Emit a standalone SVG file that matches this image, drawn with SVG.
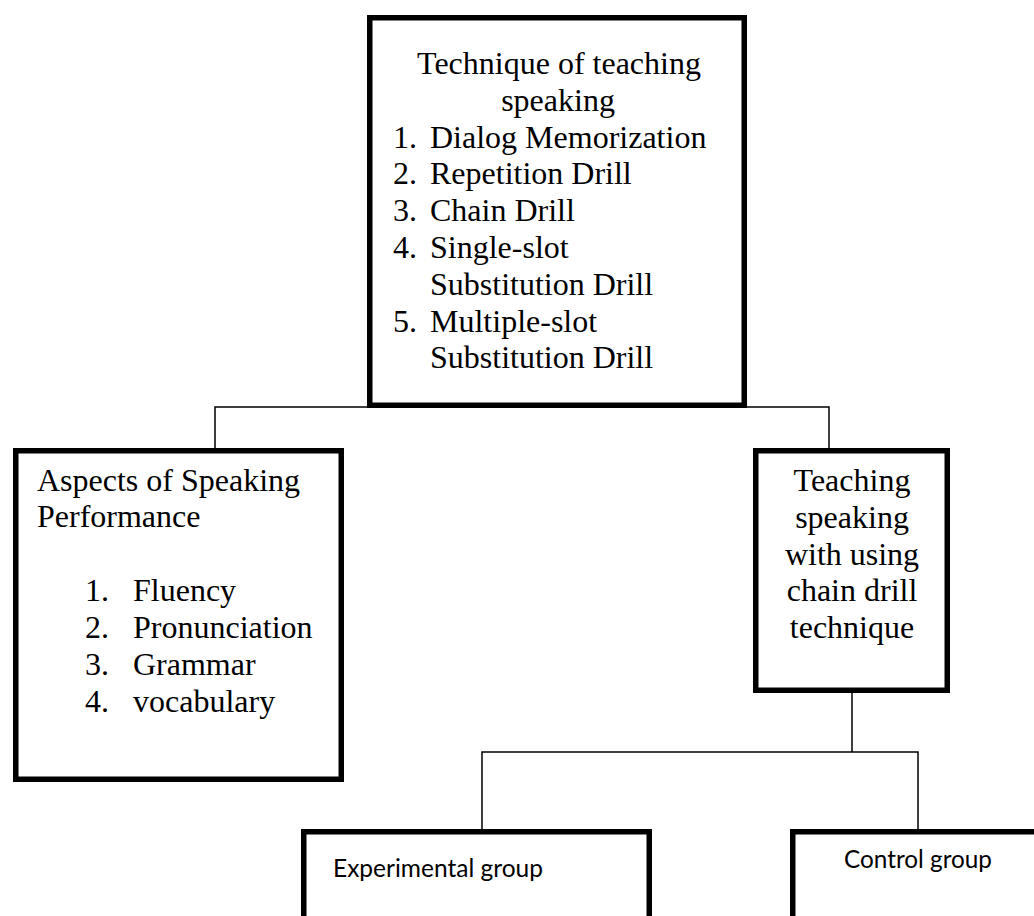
<svg xmlns="http://www.w3.org/2000/svg" width="1034" height="916" viewBox="0 0 1034 916">
<style>
.box{fill:#fff;stroke:#000;stroke-width:5.5}
.conn{fill:none;stroke:#000;stroke-width:1.5}
.serif{font-family:"Liberation Serif","Times New Roman",serif;font-size:32px;fill:#000}
.sans{font-family:Lato,"Liberation Sans",sans-serif;font-size:25px;fill:#000}
.c{text-anchor:middle}
</style>
<rect width="1034" height="916" fill="#fff"/>
<g id="connectors">
<path class="conn" d="M215,448 V407 H829 V448"/>
<path class="conn" d="M852,693 V752"/>
<path class="conn" d="M482,829 V752 H918 V829"/>
</g>
<g id="technique">
<rect class="box" x="369.75" y="17.75" width="374.5" height="387.5"/>
<text class="serif c" x="559" y="74">Technique of teaching</text>
<text class="serif c" x="558" y="110.8">speaking</text>
<text class="serif" x="393" y="147.6">1.</text><text class="serif" x="430" y="147.6">Dialog Memorization</text>
<text class="serif" x="393" y="184.4">2.</text><text class="serif" x="430" y="184.4">Repetition Drill</text>
<text class="serif" x="393" y="221.2">3.</text><text class="serif" x="430" y="221.2">Chain Drill</text>
<text class="serif" x="393" y="258">4.</text><text class="serif" x="430" y="258">Single-slot</text>
<text class="serif" x="430" y="294.8">Substitution Drill</text>
<text class="serif" x="393" y="331.6">5.</text><text class="serif" x="430" y="331.6">Multiple-slot</text>
<text class="serif" x="430" y="368.4">Substitution Drill</text>
</g>
<g id="aspects">
<rect class="box" x="15.75" y="450.75" width="325.5" height="328.5"/>
<text class="serif" x="37" y="490.7">Aspects of Speaking</text>
<text class="serif" x="37" y="527.3">Performance</text>
<text class="serif" x="85" y="600.7">1.</text><text class="serif" x="133" y="600.7">Fluency</text>
<text class="serif" x="85" y="638.3">2.</text><text class="serif" x="133" y="638.3">Pronunciation</text>
<text class="serif" x="85" y="675">3.</text><text class="serif" x="133" y="675">Grammar</text>
<text class="serif" x="85" y="711.7">4.</text><text class="serif" x="133" y="711.7">vocabulary</text>
</g>
<g id="chain-drill">
<rect class="box" x="755.75" y="450.75" width="191.5" height="239.5"/>
<text class="serif c" x="852" y="490.7">Teaching</text>
<text class="serif c" x="852" y="527.6">speaking</text>
<text class="serif c" x="852" y="564.5">with using</text>
<text class="serif c" x="852" y="601.4">chain drill</text>
<text class="serif c" x="852" y="638.3">technique</text>
</g>
<g id="experimental">
<rect class="box" x="303.75" y="831.75" width="345.5" height="200"/>
<text class="sans" x="333" y="877" textLength="210" lengthAdjust="spacingAndGlyphs">Experimental group</text>
</g>
<g id="control">
<rect class="box" x="792.75" y="831.75" width="300" height="200"/>
<text class="sans" x="844" y="868" textLength="148" lengthAdjust="spacingAndGlyphs">Control group</text>
</g>
</svg>
